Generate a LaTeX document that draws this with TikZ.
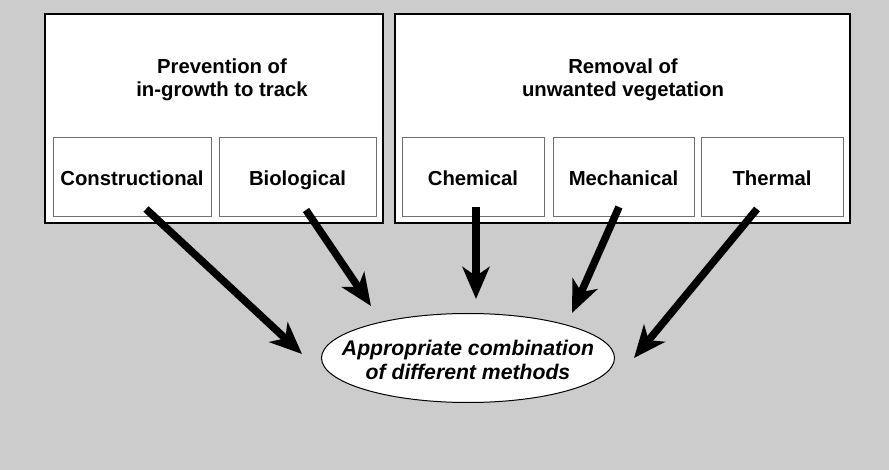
\documentclass[tikz,border=0pt]{standalone}
\usepackage{fontspec}
\setmainfont{Liberation Sans}
\usetikzlibrary{shapes.geometric,arrows.meta}
\definecolor{bggray}{RGB}{204,204,204}
\definecolor{innerline}{RGB}{110,110,110}
\tikzset{
  outerbox/.style={draw=black, line width=1.4pt, fill=white, rectangle, inner sep=0pt, minimum height=209pt},
  innerbox/.style={draw=innerline, line width=1pt, fill=white, rectangle, inner sep=0pt, minimum height=79pt,
    text height=20.4pt, text depth=4pt,
    font=\bfseries\fontsize{20.3}{22.5}\selectfont},
  titletext/.style={align=center, inner sep=0pt, font=\bfseries\fontsize{20.3}{22.5}\selectfont},
  bigarrow/.style={line width=7.5pt, -{Stealth[length=32pt 0 0, width=27pt 0 0, inset=9pt 0 0]}},
}
\begin{document}
\begin{tikzpicture}[x=1pt, y=-1pt]
\fill[bggray] (0,0) rectangle (889,470);
\useasboundingbox (0,0) rectangle (889,470);
% outer boxes
\node[outerbox, minimum width=338pt] (prev) at (214,118.5) {};
\node[outerbox, minimum width=455pt] (remv) at (622.5,118.5) {};
\node[titletext] (prevtitle) at (222,80) {Prevention of\\in-growth to track};
\node[titletext] (remvtitle) at (623,80) {Removal of\\unwanted vegetation};
% inner boxes
\node[innerbox, minimum width=158pt] (cons) at (132,177.5) {Constructional};
\node[innerbox, minimum width=157pt] (bio) at (297.5,177.5) {Biological};
\node[innerbox, minimum width=142pt] (chem) at (473,177.5) {Chemical};
\node[innerbox, minimum width=141pt] (mech) at (623.5,177.5) {Mechanical};
\node[innerbox, minimum width=142pt] (therm) at (772,177.5) {Thermal};
% ellipse
\node[ellipse, draw=black, line width=1pt, fill=white, minimum width=293pt, minimum height=89pt, inner sep=0pt] (ell) at (468,358) {};
\node[align=center, inner sep=0pt, font=\bfseries\itshape\fontsize{21.2}{24.5}\selectfont] (elltext) at (468,360) {Appropriate combination\\of different methods};
% arrow coordinates
\coordinate (s1) at (146,209);
\coordinate (t1) at (302,354);
\coordinate (s2) at (306,210);
\coordinate (t2) at (371,306);
\coordinate (s3) at (476,207);
\coordinate (t3) at (476,299);
\coordinate (s4) at (619,207);
\coordinate (t4) at (572,313);
\coordinate (s5) at (757,209);
\coordinate (t5) at (634,358);
\draw[bigarrow] (s1) -- (t1);
\draw[bigarrow] (s2) -- (t2);
\draw[bigarrow] (s3) -- (t3);
\draw[bigarrow] (s4) -- (t4);
\draw[bigarrow] (s5) -- (t5);
\end{tikzpicture}
\end{document}
